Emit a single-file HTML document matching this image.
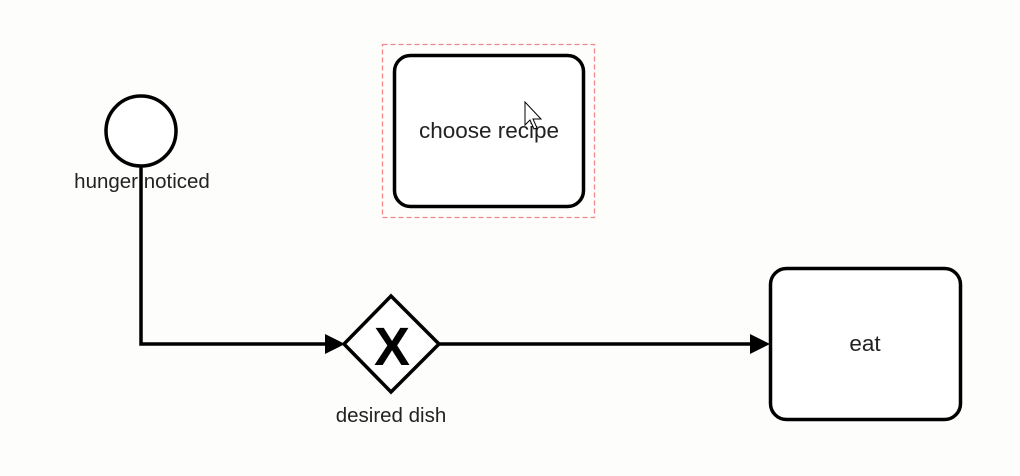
<!DOCTYPE html>
<html><head><meta charset="utf-8"><style>
html,body{margin:0;padding:0;background:#fdfdfc;}
svg{display:block;}
text{font-family:"Liberation Sans",Arial,sans-serif;fill:#222;}
</style></head><body>
<svg width="1020" height="476" viewBox="0 0 1020 476" xmlns="http://www.w3.org/2000/svg">
<rect width="1020" height="476" fill="#fdfdfc"/>
<rect x="382.5" y="44.5" width="212" height="173" fill="none" stroke="#f08a8a" stroke-width="1.3" stroke-dasharray="5,3"/>
<rect x="394.5" y="55.5" width="189" height="151" rx="16" fill="#fff" stroke="#000" stroke-width="3.5"/>
<text x="489" y="138" font-size="22.5" text-anchor="middle">choose recipe</text>
<circle cx="141" cy="131" r="35" fill="#fff" stroke="#000" stroke-width="3.5"/>
<polyline points="141,166 141,344 330,344" fill="none" stroke="#000" stroke-width="3.5"/>
<polygon points="325,334 345,344 325,354" fill="#000"/>
<text x="142" y="188" font-size="20.5" text-anchor="middle">hunger noticed</text>
<line x1="141" y1="172" x2="141" y2="172" stroke="#000" stroke-width="3.5"/>
<polygon points="391,296 439,344 391,392 344,344" fill="#fff" stroke="#000" stroke-width="3.5"/>
<text x="392" y="365" font-size="54" font-weight="bold" text-anchor="middle" style="fill:#000">X</text>
<text x="391" y="422" font-size="20.5" text-anchor="middle">desired dish</text>
<line x1="439" y1="344" x2="756" y2="344" stroke="#000" stroke-width="3.5"/>
<polygon points="750,334 770,344 750,354" fill="#000"/>
<rect x="770.5" y="268.5" width="190" height="151" rx="16" fill="#fff" stroke="#000" stroke-width="3.5"/>
<text x="865" y="351" font-size="22.5" text-anchor="middle">eat</text>
<polygon points="525,102 525,125 530,120 534,129 537,128 533,119 541,119" fill="#fff" stroke="#000" stroke-width="1"/>
</svg>
</body></html>
